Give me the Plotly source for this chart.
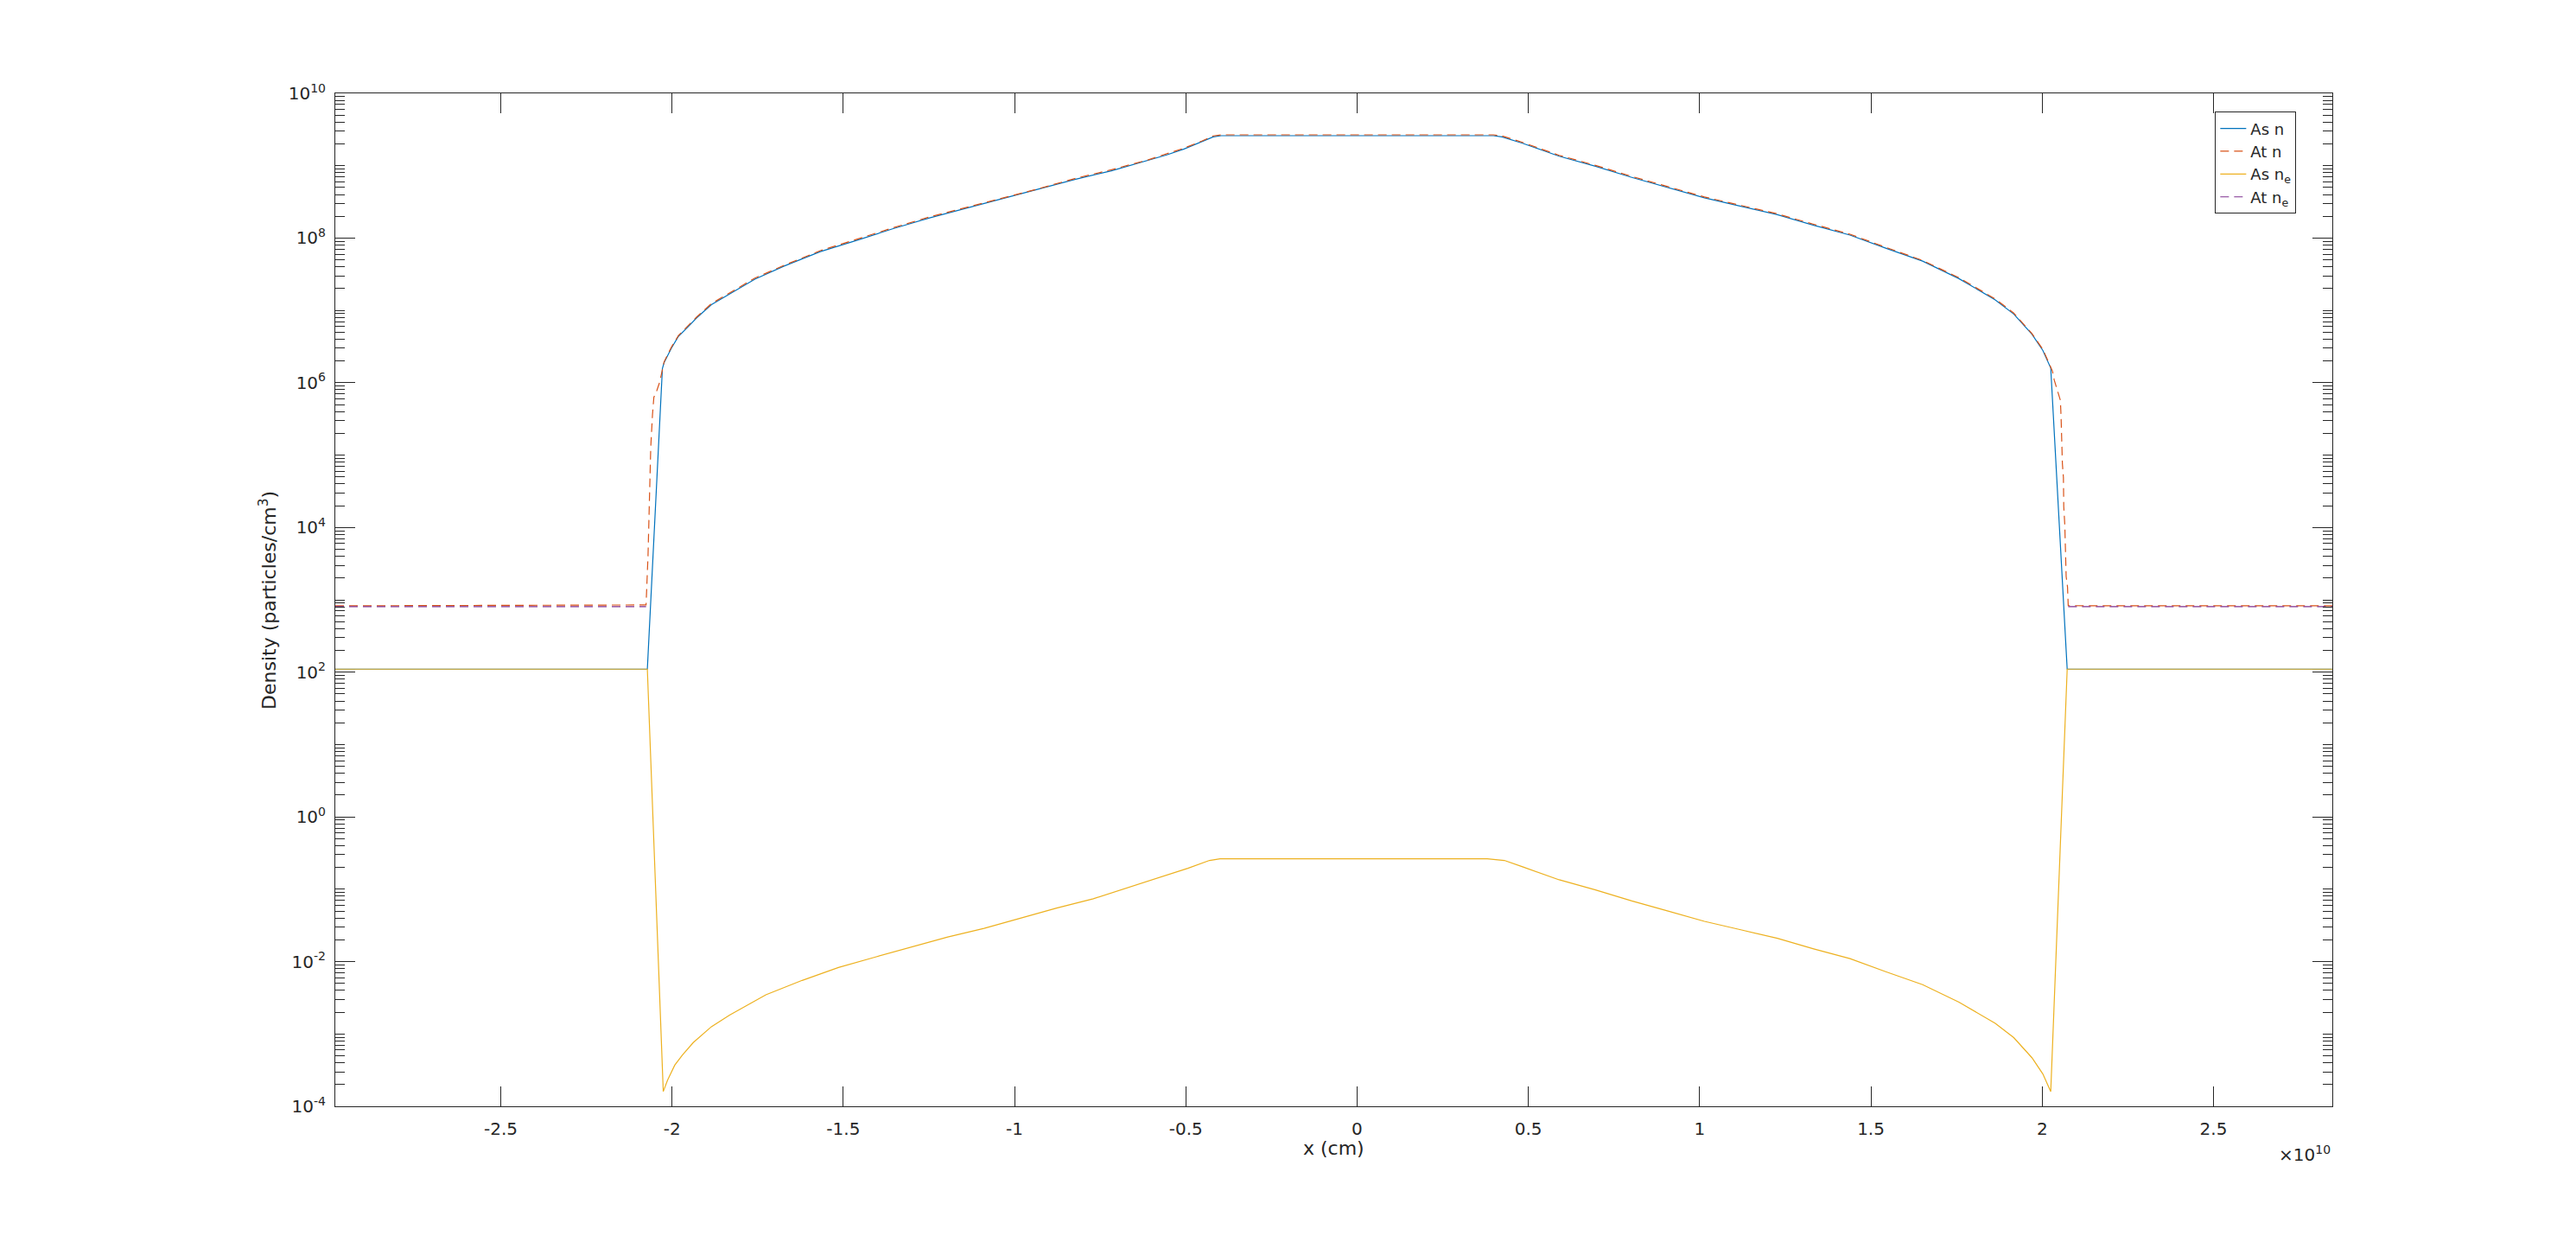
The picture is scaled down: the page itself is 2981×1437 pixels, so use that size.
import plotly.graph_objects as go

# x positions in units of 1e10 cm
x_as_n = [-2.983, -2.072, -2.028, -2.023, -2.002, -1.981, -1.960, -1.928, -1.885, -1.832, -1.758,
          -1.673, -1.567, -1.461, -1.354, -1.248, -1.142, -1.036, -0.930, -0.824, -0.717, -0.611,
          -0.556, -0.505, -0.452, -0.420, -0.397, 0.398, 0.423, 0.483, 0.590, 0.696, 0.802, 0.908,
          1.014, 1.120, 1.227, 1.333, 1.439, 1.545, 1.651, 1.757, 1.863, 1.917, 1.970, 2.002, 2.025,
          2.073, 2.847]
as_n = [110, 110, 1.58e6, 1.9e6, 3.0e6, 4.4e6, 5.5e6, 7.9e6, 1.2e7, 1.7e7, 2.7e7,
        4.1e7, 6.5e7, 9.3e7, 1.35e8, 1.9e8, 2.57e8, 3.47e8, 4.68e8, 6.46e8, 8.5e8, 1.17e9,
        1.41e9, 1.70e9, 2.14e9, 2.5e9, 2.6e9, 2.6e9, 2.5e9, 2.04e9, 1.35e9, 9.8e8, 6.9e8, 5.0e8,
        3.6e8, 2.75e8, 2.1e8, 1.5e8, 1.1e8, 7.2e7, 4.8e7, 2.75e7, 1.4e7, 8.9e6, 4.7e6, 2.8e6, 1.6e6,
        110, 110]

x_at_n = [-2.983, -2.0757, -2.070, -2.067, -2.062, -2.057, -2.053, -2.044, -2.036, -2.027,
          -2.023, -2.002, -1.981, -1.960, -1.928, -1.885, -1.832, -1.758, -1.673, -1.567, -1.461,
          -1.354, -1.248, -1.142, -1.036, -0.930, -0.824, -0.717, -0.611, -0.556, -0.505, -0.452,
          -0.420, -0.397, 0.398, 0.423, 0.483, 0.590, 0.696, 0.802, 0.908, 1.014, 1.120, 1.227,
          1.333, 1.439, 1.545, 1.651, 1.757, 1.863, 1.917, 1.970, 2.002, 2.030, 2.035, 2.042,
          2.048, 2.053, 2.055, 2.057, 2.059, 2.062, 2.063, 2.066, 2.068, 2.070, 2.074, 2.076, 2.847]
at_n = [826, 850, 4.1e3, 1.6e4, 1.3e5, 3.6e5, 6.3e5, 7.9e5, 1.02e6, 1.6e6,
        1.95e6, 3.1e6, 4.5e6, 5.7e6, 8.1e6, 1.24e7, 1.75e7, 2.8e7, 4.2e7, 6.7e7, 9.6e7,
        1.39e8, 1.96e8, 2.65e8, 3.58e8, 4.8e8, 6.65e8, 8.8e8, 1.2e9, 1.45e9, 1.75e9, 2.2e9,
        2.58e9, 2.67e9, 2.67e9, 2.58e9, 2.1e9, 1.39e9, 1.01e9, 7.1e8, 5.15e8, 3.7e8, 2.83e8, 2.16e8,
        1.55e8, 1.13e8, 7.4e7, 4.9e7, 2.83e7, 1.44e7, 9.2e6, 4.8e6, 2.9e6, 1.45e6, 1.1e6, 8.3e5,
        6.9e5, 5.75e5, 3.6e5, 1.45e5, 7.6e4, 4.9e4, 1.95e4, 1.1e4, 4.5e3, 2.1e3, 1.5e3, 830, 826]

x_as_ne = [-2.983, -2.072, -2.0255, -2.013, -1.992, -1.970, -1.938, -1.885, -1.832, -1.726,
           -1.620, -1.514, -1.408, -1.301, -1.195, -1.089, -0.983, -0.877, -0.770, -0.664,
           -0.558, -0.494, -0.431, -0.400, 0.380, 0.430, 0.483, 0.590, 0.696, 0.802, 0.908,
           1.014, 1.120, 1.227, 1.333, 1.439, 1.545, 1.651, 1.757, 1.863, 1.917, 1.970, 2.002,
           2.025, 2.073, 2.847]
as_ne = [110, 110, 1.6e-4, 2.3e-4, 3.7e-4, 5.1e-4, 7.6e-4, 1.26e-3, 1.82e-3, 3.47e-3,
         5.5e-3, 8.3e-3, 1.15e-2, 1.58e-2, 2.19e-2, 2.88e-2, 3.98e-2, 5.5e-2, 7.4e-2, 1.07e-1,
         1.55e-1, 1.95e-1, 2.5e-1, 2.63e-1, 2.63e-1, 2.5e-1, 2.04e-1, 1.35e-1, 9.8e-2, 6.9e-2, 5.0e-2,
         3.6e-2, 2.75e-2, 2.1e-2, 1.5e-2, 1.1e-2, 7.2e-3, 4.8e-3, 2.75e-3, 1.4e-3, 8.9e-4, 4.7e-4, 2.8e-4,
         1.6e-4, 110, 110]

x_at_ne = [-2.983, -2.0757, None, 2.076, 2.847]
at_ne = [804, 804, None, 804, 804]

x_ticks = [-2.5, -2, -1.5, -1, -0.5, 0, 0.5, 1, 1.5, 2, 2.5]
x_ticktext = ["-2.5", "-2", "-1.5", "-1", "-0.5", "0", "0.5", "1", "1.5", "2", "2.5"]
y_exps = [-4, -2, 0, 2, 4, 6, 8, 10]

FONT = "DejaVu Sans"
AX = "#262626"
DASH = "10px,6px"

fig = go.Figure()
fig.add_trace(go.Scatter(x=x_as_n, y=as_n, mode="lines", name="As n",
                         line=dict(color="#0072BD", width=1.2)))
fig.add_trace(go.Scatter(x=x_at_n, y=at_n, mode="lines", name="At n",
                         line=dict(color="#D95319", width=1.2, dash=DASH)))
fig.add_trace(go.Scatter(x=x_as_ne, y=as_ne, mode="lines", name="As n<sub>e</sub>",
                         line=dict(color="#EDB120", width=1.2)))
fig.add_trace(go.Scatter(x=x_at_ne, y=at_ne, mode="lines", name="At n<sub>e</sub>",
                         connectgaps=False,
                         line=dict(color="#7E2F8E", width=1.2, dash=DASH)))

minor_vals = []
for e in range(-4, 10):
    for k in range(1, 10):
        if k == 1 and e % 2 == 0:
            continue
        minor_vals.append(k * 10.0 ** e)

fig.update_layout(
    width=2981, height=1437,
    margin=dict(l=388, r=282, t=108, b=157, pad=0),
    paper_bgcolor="white", plot_bgcolor="white",
    font=dict(family=FONT, color=AX, size=20),
    showlegend=True,
    legend=dict(x=0.9413, y=0.9818, xanchor="left", yanchor="top",
                bgcolor="white", bordercolor=AX, borderwidth=1,
                font=dict(family=FONT, size=18, color=AX), tracegroupgap=0),
    xaxis=dict(range=[-2.983, 2.847], showline=True, linecolor=AX, linewidth=1, mirror="ticks",
               ticks="inside", ticklen=23, tickwidth=1, tickcolor=AX,
               tickmode="array", tickvals=x_ticks, ticktext=x_ticktext,
               showgrid=False, zeroline=False, ticklabelstandoff=8,
               tickfont=dict(family=FONT, size=20, color=AX)),
    yaxis=dict(type="log", range=[-4, 10], showline=True, linecolor=AX, linewidth=1, mirror="ticks",
               ticks="inside", ticklen=23, tickwidth=1, tickcolor=AX,
               tickmode="array", tickvals=[10.0 ** e for e in y_exps],
               ticktext=["10<sup>%d</sup>" % e for e in y_exps],
               minor=dict(ticks="inside", ticklen=11, tickwidth=1, tickcolor=AX,
                          tickmode="array", tickvals=minor_vals, showgrid=False),
               showgrid=False, zeroline=False, ticklabelstandoff=6,
               tickfont=dict(family=FONT, size=20, color=AX)),
    annotations=[
        dict(text="x (cm)", xref="paper", yref="paper", x=0.5, y=-0.0418,
             xanchor="center", yanchor="middle", showarrow=False,
             font=dict(family=FONT, size=22, color=AX)),
        dict(text="Density (particles/cm<sup>3</sup>)", xref="paper", yref="paper",
             x=-0.0338, y=0.5, xanchor="center", yanchor="middle", textangle=-90,
             showarrow=False, font=dict(family=FONT, size=22, color=AX)),
        dict(text="\u00d710<sup>10</sup>", xref="paper", yref="paper", x=1.0, y=-0.047,
             xanchor="right", yanchor="middle", showarrow=False,
             font=dict(family=FONT, size=20, color=AX)),
    ],
)

fig.write_html("out.html", config={"displayModeBar": False},
               post_script="document.body.style.margin='0';document.body.style.overflow='hidden';")
